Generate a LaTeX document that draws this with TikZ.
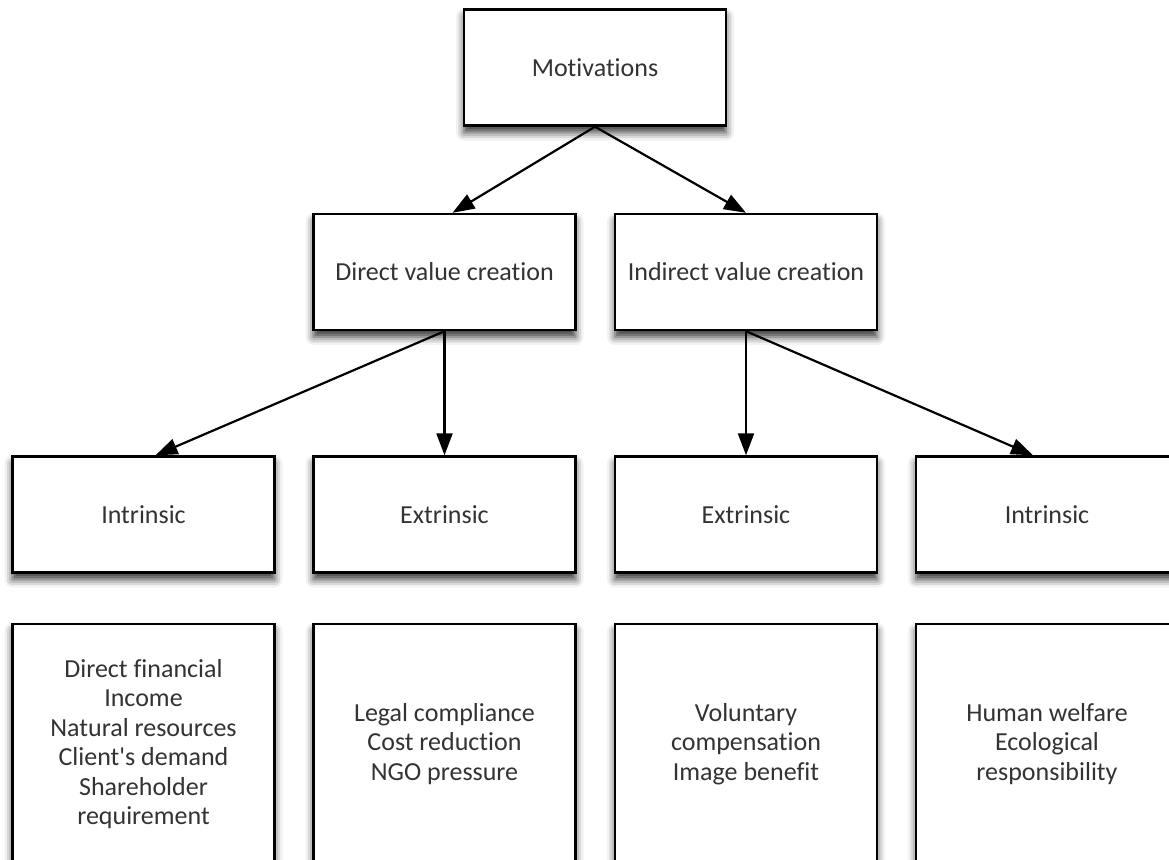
\documentclass[tikz,border=0pt]{standalone}
\usepackage{fontspec}
\setmainfont{Carlito}[Ligatures={NoCommon}]
\usetikzlibrary{arrows.meta,shadows.blur}
\definecolor{txt}{HTML}{333333}
\tikzset{
  box/.style={draw=black, line width=2.4pt, fill=white, minimum width=262pt, minimum height=116pt,
    inner sep=0pt, align=center, text=txt, font=\fontsize{26}{29.5}\selectfont,
    blur shadow={shadow xshift=0pt, shadow yshift=-7pt, shadow blur radius=8pt, shadow opacity=80}},
  tall/.style={minimum height=240pt},
  conn/.style={line width=2.2pt, -{Triangle[length=22pt,width=16pt]}}
}
\begin{document}
\begin{tikzpicture}[x=1pt,y=-1pt]
\useasboundingbox (0,0) rectangle (1169,859);
\node[box] (mot) at (595,67.5) {Motivations};
\node[box] (dvc) at (444.5,272) {Direct value creation};
\node[box] (ivc) at (746,272) {Indirect value creation};
\node[box] (in1) at (143.5,514.5) {Intrinsic};
\node[box] (ex1) at (444.5,514.5) {Extrinsic};
\node[box] (ex2) at (746,514.5) {Extrinsic};
\node[box] (in2) at (1047,514.5) {Intrinsic};
\node[box, tall] (l1) at (143.5,744) {Direct financial\\Income\\Natural resources\\Client\textquotesingle s demand\\Shareholder\\requirement};
\node[box, tall] (l2) at (444.5,744) {Legal compliance\\Cost reduction\\NGO pressure};
\node[box, tall] (l3) at (746,744) {Voluntary\\compensation\\Image benefit};
\node[box, tall] (l4) at (1047,744) {Human welfare\\Ecological\\responsibility};
\draw[conn] (mot.south) -- ([xshift=8pt]dvc.north);
\draw[conn] (mot.south) -- (ivc.north);
\draw[conn] (dvc.south) -- ([xshift=12pt]in1.north);
\draw[conn] (dvc.south) -- (ex1.north);
\draw[conn] (ivc.south) -- (ex2.north);
\draw[conn] (ivc.south) -- ([xshift=-14pt]in2.north);
\end{tikzpicture}
\end{document}
